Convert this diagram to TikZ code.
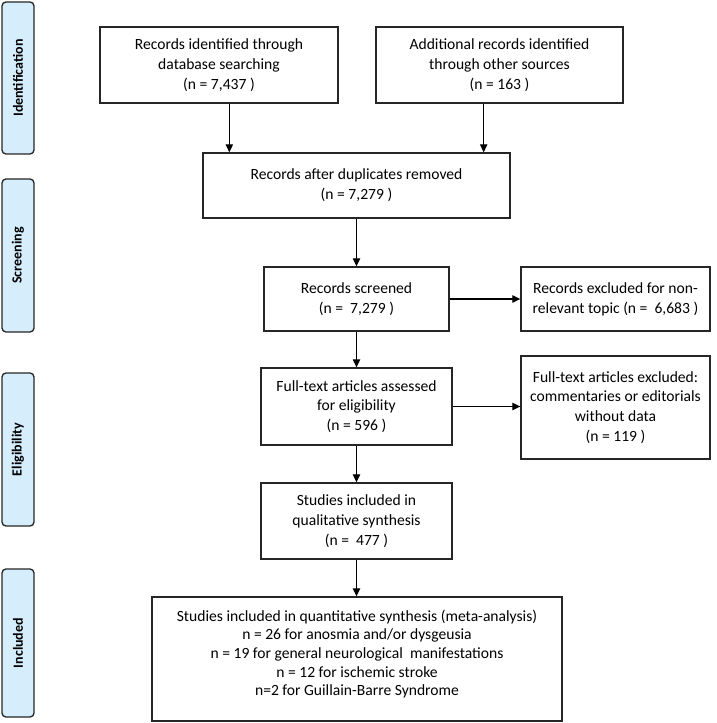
\documentclass[tikz,border=0pt]{standalone}
\usepackage{fontspec}
\setmainfont{Carlito}
\usetikzlibrary{arrows.meta}

\definecolor{phaseblue}{RGB}{214,238,252}
\tikzset{every picture/.style={line width=0.75pt}}
\tikzset{
  flowbox/.style 2 args={draw=black!85, line width=1pt, inner sep=0pt, align=center,
    minimum width=#1*0.75pt, minimum height=#2*0.75pt, font=\fontsize{11.7}{14.8}\selectfont},
  phasebox/.style={draw=black!85, fill=phaseblue, line width=1pt, rounded corners=3pt, inner sep=0pt,
    minimum width=32*0.75pt, font=\bfseries\fontsize{10.5}{12}\selectfont},
  flowarrow/.style={-{Triangle[length=6pt,width=5.5pt]}, line width=0.9pt}
}

\begin{document}
\begin{tikzpicture}[x=0.75pt,y=0.75pt,yscale=-1,xscale=1]
    \useasboundingbox (0,0) rectangle (716,723);
    %Phase labels
    \node [phasebox, minimum height=152*0.75pt] (ident) at (18,78) {\rotatebox{90}{Identification}};
    \node [phasebox, minimum height=153*0.75pt] (screen) at (18,255.5) {\rotatebox{90}{Screening}};
    \node [phasebox, minimum height=153*0.75pt] (elig) at (18,449.5) {\rotatebox{90}{Eligibility}};
    \node [phasebox, minimum height=148*0.75pt] (incl) at (18,643) {\rotatebox{90}{Included}};
    % Boxes
    \node [flowbox={238}{76}] (dbs) at (219,65) {Records identified through\\database searching\\(n = 7,437 )};
    \node [flowbox={247}{76}] (other) at (499.5,65) {Additional records identified\\through other sources\\(n = 163 )};
    \node [flowbox={307}{65}] (after) at (356.5,185.5) {Records after duplicates removed\\(n = 7,279 )};
    \node [flowbox={185}{64}] (screened) at (356.5,299) {Records screened\\(n =\ \ 7,279 )};
    \node [flowbox={189}{64}] (excl) at (615.5,299) {Records excluded for non-\\relevant topic (n =\ \ 6,683 )};
    \node [flowbox={191}{77}] (full) at (356.5,406.5) {Full-text articles assessed\\for eligibility\\(n = 596 )};
    \node [flowbox={189}{103}] (fullexcl) at (615.5,407.5) {Full-text articles excluded:\\commentaries or editorials\\without data\\(n = 119 )};
    \node [flowbox={191}{76}] (qual) at (356.5,521) {Studies included in\\qualitative synthesis\\(n =\ \ 477 )};
    \node [flowbox={410}{124}] (quant) at (357,659) {};
    % Text Node
    \node [align=center, inner sep=0pt, font=\fontsize{11.7}{14}\selectfont] (quanttext) at (357,654) {Studies included in quantitative synthesis (meta-analysis)\\n = 26 for anosmia and/or dysgeusia\\n = 19 for general neurological\ \ manifestations\\n = 12 for ischemic stroke\\n=2 for Guillain-Barre Syndrome};
    % Arrows
    \draw [flowarrow] ([xshift=20.25pt]after.north west |- dbs.south) -- ([xshift=20.25pt]after.north west);
    \draw [flowarrow] ([xshift=-20.25pt]after.north east |- other.south) -- ([xshift=-20.25pt]after.north east);
    \draw [flowarrow] (after) -- (screened);
    \draw [flowarrow] (screened) -- (excl);
    \draw [flowarrow] (screened) -- (full);
    \draw [flowarrow] (full) -- (fullexcl.west |- full.east);
    \draw [flowarrow] (full) -- (qual);
    \draw [flowarrow] (qual.south) -- (qual.south |- quant.north);
\end{tikzpicture}
\end{document}
